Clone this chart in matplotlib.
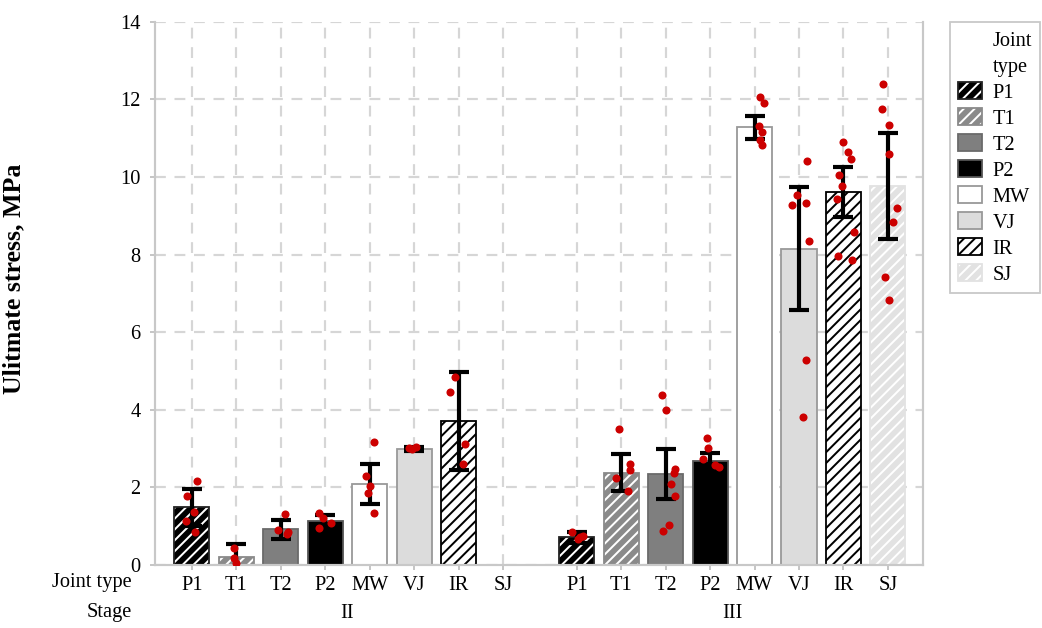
import numpy as np
import matplotlib
matplotlib.use('Agg')
import matplotlib.pyplot as plt
from matplotlib.patches import Patch
from matplotlib import transforms

# ---------------- data ----------------
joint_types = ['P1', 'T1', 'T2', 'P2', 'MW', 'VJ', 'IR', 'SJ']
stages = ['II', 'III']

mean_II = [1.49, 0.21, 0.92, 1.13, 2.09, 2.99, 3.72, np.nan]
sd_II = [0.48, 0.34, 0.24, 0.15, 0.52, 0.05, 1.26, np.nan]
mean_III = [0.71, 2.38, 2.35, 2.68, 11.28, 8.15, 9.61, 9.77]
sd_III = [0.14, 0.48, 0.65, 0.20, 0.30, 1.58, 0.65, 1.37]

pts_II = [[2.17, 1.77, 1.37, 1.13, 0.85],
          [0.43, 0.17, 0.05],
          [1.31, 0.90, 0.85, 0.80],
          [1.33, 1.20, 1.07, 0.95],
          [3.18, 2.30, 2.03, 1.86, 1.33],
          [3.02, 3.05, 3.00],
          [4.84, 4.45, 3.13, 2.61],
          []]
jit_II = [[0.11, -0.10, 0.04, -0.13, 0.07],
          [-0.05, -0.05, 0.0],
          [0.09, -0.06, 0.16, 0.13],
          [-0.13, -0.05, 0.13, -0.13],
          [0.09, -0.09, 0.0, -0.04, 0.09],
          [-0.11, 0.04, -0.04],
          [-0.09, -0.19, 0.15, 0.11],
          []]
pts_III = [[0.86, 0.73, 0.75, 0.68],
           [3.51, 2.59, 2.44, 2.25, 1.91],
           [4.39, 4.00, 2.48, 2.38, 2.10, 1.77, 1.03, 0.88],
           [3.28, 3.02, 2.73, 2.57, 2.53],
           [12.07, 11.90, 11.30, 11.17, 10.96, 10.83],
           [10.40, 9.53, 9.27, 9.32, 8.35, 5.27, 3.81],
           [10.89, 10.64, 10.45, 10.06, 9.76, 9.42, 8.59, 7.96, 7.85],
           [12.40, 11.76, 11.33, 10.59, 9.19, 8.84, 7.42, 6.83]]
jit_III = [[-0.11, 0.07, 0.15, 0.02],
           [-0.06, 0.19, 0.19, -0.11, 0.15],
           [-0.09, 0.0, 0.20, 0.19, 0.11, 0.20, 0.07, -0.05],
           [-0.07, -0.04, -0.16, 0.11, 0.19],
           [0.13, 0.22, 0.10, 0.17, 0.13, 0.17],
           [0.19, -0.05, -0.16, 0.15, 0.23, 0.15, 0.10],
           [0.0, 0.10, 0.18, -0.09, -0.04, -0.15, 0.23, -0.12, 0.20],
           [-0.10, -0.14, 0.02, 0.02, 0.20, 0.12, -0.07, 0.02]]

# ---------------- styles ----------------
styles = {
    'P1': dict(face='black', hatch='////', hcol='white', edge='#222222'),
    'T1': dict(face='#8a8a8a', hatch='////', hcol='white', edge='#8a8a8a'),
    'T2': dict(face='#7f7f7f', hatch=None, hcol='#6a6a6a', edge='#6a6a6a'),
    'P2': dict(face='black', hatch=None, hcol='#555555', edge='#555555'),
    'MW': dict(face='white', hatch=None, hcol='#999999', edge='#999999'),
    'VJ': dict(face='#dcdcdc', hatch=None, hcol='#999999', edge='#999999'),
    'IR': dict(face='white', hatch='////', hcol='black', edge='black'),
    'SJ': dict(face='#e2e2e2', hatch='////', hcol='white', edge='#e2e2e2'),
}

DPI = 130
FS = 11.3
plt.rcParams['font.family'] = ['Liberation Serif', 'DejaVu Serif']
plt.rcParams['hatch.linewidth'] = 1.1

fig = plt.figure(figsize=(1042 / DPI, 628 / DPI), dpi=DPI)
W, H = 1042, 628
ax = fig.add_axes([155 / W, 1 - 565 / H, (923 - 155) / W, (565 - 21.7) / H])

gap_offset = 8.66
pos_II = np.arange(len(joint_types), dtype=float)
pos_III = pos_II + gap_offset
bw = 0.79

grid_col = '#d6d6d6'
ax.set_axisbelow(True)
ax.grid(True, color=grid_col, linestyle=(0, (5, 4)), linewidth=1.2)

for positions, means, sds, pts, jit in [(pos_II, mean_II, sd_II, pts_II, jit_II),
                                         (pos_III, mean_III, sd_III, pts_III, jit_III)]:
    for i, jt in enumerate(joint_types):
        st = styles[jt]
        if np.isnan(means[i]):
            continue
        ax.bar(positions[i], means[i], width=bw, color=st['face'], edgecolor=st['hcol'],
               hatch=st['hatch'], linewidth=0, zorder=2)
        ax.bar(positions[i], means[i], width=bw, fill=False, edgecolor=st['edge'],
               linewidth=1.0, zorder=2.1)
        ax.errorbar(positions[i], means[i], yerr=sds[i], fmt='none', ecolor='black',
                    elinewidth=2.3, capsize=5.5, capthick=2.3, zorder=3)
        if pts[i]:
            ax.scatter(positions[i] + np.array(jit[i]), pts[i], s=20, color='#cc0000',
                       zorder=4, linewidths=0)

ax.set_xlim(-0.83, 7 + gap_offset + 0.79)
ax.set_ylim(0, 14)
ax.set_yticks(np.arange(0, 15, 2))
ax.set_xticks(np.concatenate([pos_II, pos_III]))
ax.set_xticklabels(joint_types + joint_types)

for side in ['left', 'right', 'bottom']:
    ax.spines[side].set_color('#c8c8c8')
    ax.spines[side].set_linewidth(1.2)
ax.spines['top'].set_visible(False)

ax.tick_params(axis='both', colors='#c0c0c0', labelcolor='black', length=3, width=1,
               labelsize=FS)
ax.tick_params(axis='x', pad=3)
ax.tick_params(axis='y', pad=5)

ax.set_ylabel('Ulitmate stress, MPa', fontsize=14.3, fontweight='bold')
ax.yaxis.set_label_coords((25 - 155) / 768, (565 - 279) / 543.3)

# bottom labels
trans = transforms.blended_transform_factory(ax.transData, fig.transFigure)
fig.text(132 / W, 1 - 583 / H, 'Joint type', ha='right', va='center', fontsize=FS)
fig.text(132 / W, 1 - 613 / H, 'Stage', ha='right', va='center', fontsize=FS)
ax.text(np.mean(pos_II), 1 - 613 / H, stages[0], transform=trans, ha='center',
        va='center', fontsize=FS)
ax.text(np.mean(pos_III), 1 - 613 / H, stages[1], transform=trans, ha='center',
        va='center', fontsize=FS)

# legend
handles = [Patch(facecolor='none', edgecolor='none'), Patch(facecolor='none', edgecolor='none')]
labels = ['Joint', 'type']
for jt in joint_types:
    st = styles[jt]
    base = Patch(facecolor=st['face'], edgecolor=st['hcol'], hatch=st['hatch'], linewidth=0)
    outline = Patch(facecolor='none', edgecolor=st['edge'], linewidth=1.0)
    handles.append((base, outline))
    labels.append(jt)

leg = fig.legend(handles, labels, loc='upper left', bbox_to_anchor=(950 / W, 1 - 21.7 / H),
                 fontsize=FS, frameon=True, fancybox=False, edgecolor='#bbbbbb',
                 handlelength=1.18, handleheight=0.93, handletextpad=0.5,
                 labelspacing=0.26, borderpad=0.4, borderaxespad=0)
leg.get_frame().set_linewidth(1.0)

fig.savefig('out.png', dpi=DPI)
